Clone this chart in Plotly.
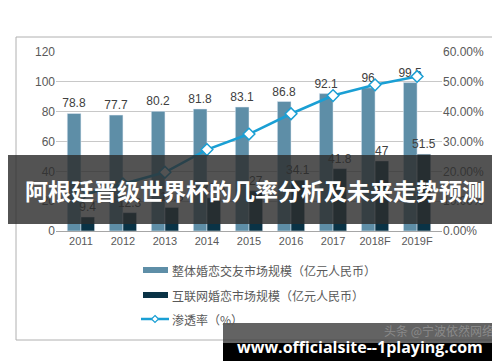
import plotly.graph_objects as go

years = ["2011", "2012", "2013", "2014", "2015", "2016", "2017", "2018F", "2019F"]
overall = [78.8, 77.7, 80.2, 81.8, 83.1, 86.8, 92.1, 96, 99.5]
internet = [9.4, 12.3, 15.8, 22.3, 27, 34.1, 41.8, 47, 51.5]
penetration = [0.119, 0.158, 0.197, 0.273, 0.325, 0.393, 0.454, 0.490, 0.518]

legend_labels = ["整体婚恋交友市场规模（亿元人民币）", "互联网婚恋市场规模（亿元人民币）", "渗透率（%）"]
left_ticks = [0, 20, 40, 60, 80, 100, 120]
right_ticks = [0, 0.1, 0.2, 0.3, 0.4, 0.5, 0.6]

C_LIGHT = "#5e8ea7"
C_DARK = "#0a3346"
C_LINE = "#1a9fd4"
TXT = "#404040"
FONT = "Noto Sans CJK SC, Liberation Sans, sans-serif"
NUMFONT = "Liberation Sans, Arial, sans-serif"

W, H = 500, 362
L, R, T, B = 48, 434, 44, 223


def px(x):
    return (x - L) / (R - L)


def py(y):
    return (B - y) / (B - T)


fig = go.Figure()
fig.add_trace(go.Bar(x=years, y=overall, marker_color=C_LIGHT, name=legend_labels[0],
                     text=[f"{v:g}" for v in overall], textposition="outside",
                     constraintext="none",
                     textfont=dict(size=12, color=TXT, family=NUMFONT), cliponaxis=False))
fig.add_trace(go.Bar(x=years, y=internet, marker_color=C_DARK, name=legend_labels[1],
                     text=[f"{v:g}" for v in internet], textposition="outside",
                     constraintext="none",
                     textfont=dict(size=12, color=TXT, family=NUMFONT), cliponaxis=False))
fig.add_trace(go.Scatter(x=years, y=penetration, yaxis="y2", mode="lines+markers",
                         name=legend_labels[2],
                         line=dict(color=C_LINE, width=2.5),
                         marker=dict(symbol="diamond", size=9, color="white",
                                     line=dict(color=C_LINE, width=1.5))))

shapes = []
annotations = []

# outer border
shapes.append(dict(type="rect", xref="paper", yref="paper", x0=px(8), x1=px(492),
                   y0=py(332), y1=py(29), line=dict(color="#b0b0b0", width=1)))

# custom legend
rows = [262, 287, 311]
for i, (lab, yy) in enumerate(zip(legend_labels, rows)):
    if i < 2:
        shapes.append(dict(type="rect", xref="paper", yref="paper", x0=px(135), x1=px(160),
                           y0=py(yy + 3), y1=py(yy - 3), fillcolor=[C_LIGHT, C_DARK][i],
                           line=dict(width=0)))
    else:
        shapes.append(dict(type="line", xref="paper", yref="paper", x0=px(133), x1=px(161),
                           y0=py(yy), y1=py(yy), line=dict(color=C_LINE, width=2.5)))
        shapes.append(dict(type="path", xref="paper", yref="paper",
                           path=f"M {px(147)},{py(yy-3.5)} L {px(150.5)},{py(yy)} L {px(147)},{py(yy+3.5)} L {px(143.5)},{py(yy)} Z",
                           fillcolor="white", line=dict(color=C_LINE, width=1.2)))
    annotations.append(dict(xref="paper", yref="paper", x=px(162), y=py(yy), text=lab,
                            showarrow=False, xanchor="left", yanchor="middle",
                            font=dict(size=12, color="#595959", family=FONT)))

# overlay banner
shapes.append(dict(type="rect", xref="paper", yref="paper", x0=px(0), x1=px(500),
                   y0=py(216), y1=py(147), fillcolor="rgba(45,45,45,0.82)",
                   line=dict(width=0), layer="above"))
annotations.append(dict(xref="paper", yref="paper", x=px(247), y=py(182),
                        text="<b>阿根廷晋级世界杯的几率分析及未来走势预测</b>",
                        showarrow=False, xanchor="center", yanchor="middle",
                        font=dict(size=23, color="white", family=FONT)))

# bottom watermark box
shapes.append(dict(type="rect", xref="paper", yref="paper", x0=px(215), x1=px(491),
                   y0=py(335), y1=py(315), fillcolor="rgba(60,60,60,0.8)",
                   line=dict(width=0), layer="above"))
shapes.append(dict(type="rect", xref="paper", yref="paper", x0=px(215), x1=px(491),
                   y0=py(353), y1=py(335), fillcolor="black",
                   line=dict(width=0), layer="above"))
annotations.append(dict(xref="paper", yref="paper", x=px(488), y=py(322),
                        text="头条 @宁波依然网络", showarrow=False, xanchor="right",
                        yanchor="middle", font=dict(size=12, color="#8a8a8a", family=FONT)))
annotations.append(dict(xref="paper", yref="paper", x=px(352), y=py(339),
                        text="<b>www.officialsite--1playing.com</b>", showarrow=False,
                        xanchor="center", yanchor="middle",
                        font=dict(size=16, color="white", family="Open Sans, sans-serif")))

fig.update_layout(
    width=W, height=H,
    margin=dict(l=L, r=W - R, t=T, b=H - B),
    paper_bgcolor="white", plot_bgcolor="white",
    barmode="group", bargap=0.35, bargroupgap=0,
    showlegend=False,
    font=dict(family=NUMFONT, color="#595959", size=11),
    xaxis=dict(showgrid=False, showline=True, linecolor="#a6a6a6", linewidth=1,
               ticks="", tickfont=dict(size=11, color="#595959", family=NUMFONT)),
    yaxis=dict(range=[0, 120], tickvals=left_ticks, showgrid=True, gridcolor="#c8c8c8",
               gridwidth=1, zeroline=False, showline=False, ticks="",
               tickfont=dict(size=12, color="#595959", family=NUMFONT)),
    yaxis2=dict(range=[0, 0.6], tickvals=right_ticks, tickformat=".2%", overlaying="y",
                side="right", showgrid=False, zeroline=False, showline=False, ticks="",
                tickfont=dict(size=12, color="#595959", family=NUMFONT)),
    shapes=shapes, annotations=annotations,
)

fig.write_html("out.html")
